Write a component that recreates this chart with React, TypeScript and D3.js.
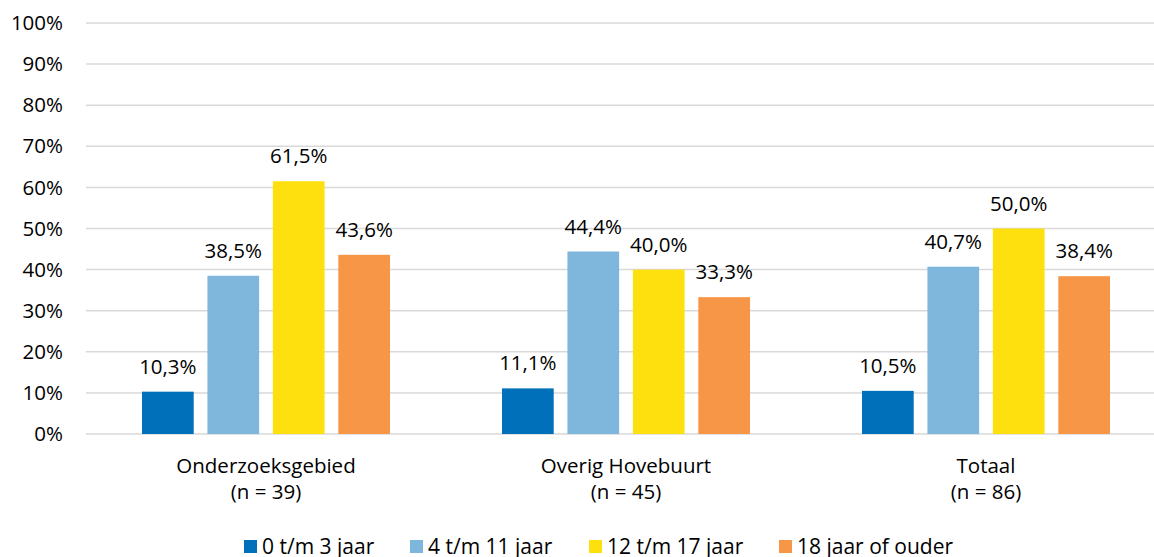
import React from "react";
import * as d3 from "d3";

const categories = ["Onderzoeksgebied", "Overig Hovebuurt", "Totaal"];
const categorySubLabels = ["(n = 39)", "(n = 45)", "(n = 86)"];
const seriesNames = ["0 t/m 3 jaar", "4 t/m 11 jaar", "12 t/m 17 jaar", "18 jaar of ouder"];
const seriesColors = ["#0070BA", "#7FB6DC", "#FFE00F", "#F79646"];
const values0to3 = [10.3, 11.1, 10.5];
const values4to11 = [38.5, 44.4, 40.7];
const values12to17 = [61.5, 40.0, 50.0];
const values18plus = [43.6, 33.3, 38.4];
const seriesValues = [values0to3, values4to11, values12to17, values18plus];
const yTicks = [0, 10, 20, 30, 40, 50, 60, 70, 80, 90, 100];

const W = 1154;
const H = 557;
const FONT = "'Open Sans', 'Noto Sans', sans-serif";
const legendX = [244, 410, 589, 779];

export default function App() {
  const x0 = d3.scaleBand<string>().domain(categories).range([86, 1166]).padding(0);
  const x1 = d3
    .scaleBand<number>()
    .domain(d3.range(seriesNames.length))
    .range([56, 304])
    .paddingInner(0.21)
    .paddingOuter(0);
  const y = d3.scaleLinear().domain([0, 100]).range([434, 23]);
  const fmt = (v: number) => v.toFixed(1).replace(".", ",") + "%";

  return (
    <svg
      width={W}
      height={H}
      style={{ position: "absolute", left: 0, top: 0, background: "#fff" }}
      fontFamily={FONT}
    >
      <rect width={W} height={H} fill="#fff" />
      {yTicks.map((t) => (
        <g key={t}>
          <line x1={86} x2={1166} y1={y(t)} y2={y(t)} stroke="#D9D9D9" strokeWidth={1.5} />
          <text x={63} y={y(t)} dy="0.35em" textAnchor="end" fontSize={20.5} fill="#000">
            {t}%
          </text>
        </g>
      ))}
      {categories.map((c, ci) => (
        <g key={c} transform={`translate(${x0(c)},0)`}>
          {seriesValues.map((vals, si) => {
            const v = vals[ci];
            const bx = x1(si)!;
            return (
              <g key={si}>
                <rect
                  x={bx}
                  y={y(v)}
                  width={x1.bandwidth()}
                  height={y(0) - y(v)}
                  fill={seriesColors[si]}
                />
                <text
                  x={bx + x1.bandwidth() / 2}
                  y={y(v) - 18}
                  textAnchor="middle"
                  fontSize={20.5}
                  fill="#000"
                >
                  {fmt(v)}
                </text>
              </g>
            );
          })}
          <text x={x0.bandwidth() / 2} y={473} textAnchor="middle" fontSize={20.5} fill="#000">
            {c}
          </text>
          <text x={x0.bandwidth() / 2} y={499} textAnchor="middle" fontSize={20.5} fill="#000">
            {categorySubLabels[ci]}
          </text>
        </g>
      ))}
      {seriesNames.map((s, si) => (
        <g key={s} transform={`translate(${legendX[si]},0)`}>
          <rect x={0} y={540} width={13} height={13} fill={seriesColors[si]} />
          <text x={18} y={554} fontSize={21} fill="#000">
            {s}
          </text>
        </g>
      ))}
    </svg>
  );
}
